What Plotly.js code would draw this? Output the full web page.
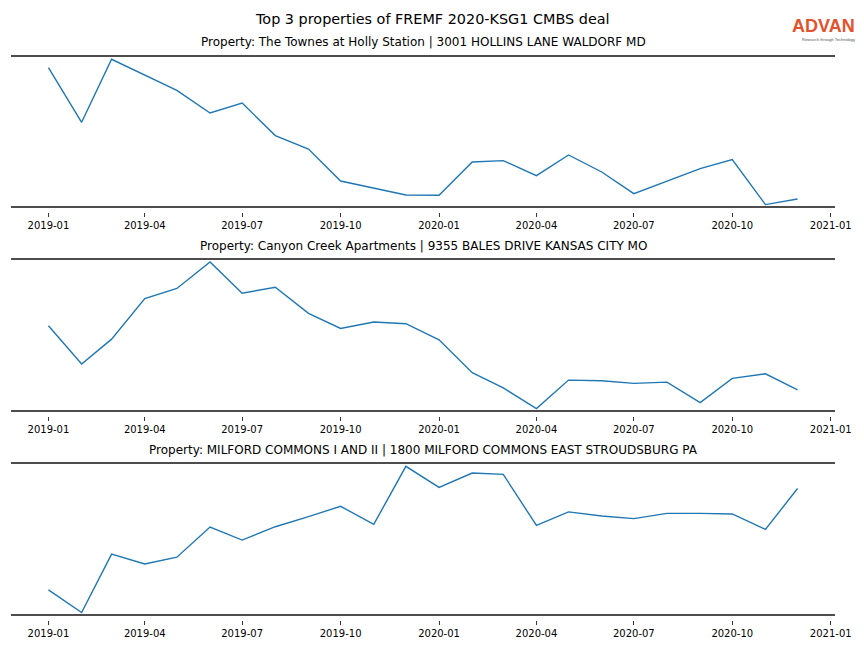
<!DOCTYPE html>
<html>
<head>
<meta charset="utf-8">
<script src="https://cdn.plot.ly/plotly-3.0.1.min.js"></script>
<style>html,body{margin:0;padding:0;background:#fff;}#chart{width:864px;height:648px;}</style>
</head>
<body>
<div id="chart"></div>
<script>
const months = ["2019-01-01","2019-02-01","2019-03-01","2019-04-01","2019-05-01","2019-06-01","2019-07-01","2019-08-01","2019-09-01","2019-10-01","2019-11-01","2019-12-01",
                "2020-01-01","2020-02-01","2020-03-01","2020-04-01","2020-05-01","2020-06-01","2020-07-01","2020-08-01","2020-09-01","2020-10-01","2020-11-01","2020-12-01"];
const townesValues = [139.4,84.7,147.7,132.2,116.7,94,104,71.4,58,26,18.7,12,11.7,45,46.4,31.4,52,35,13.4,25.7,38.4,47.4,2.4,8];
const canyonValues = [84.7,46.7,71.4,111.7,121.7,148,117,123,97,82,88.4,86.7,70.7,38,23,2.4,30.7,30,27.4,28.7,8.4,32.4,37,21];
const milfordValues = [25,2.4,60.4,50.7,57.4,87.4,74.4,87.7,97.7,108,90,147.7,126.7,141,139.7,89,102.4,98.4,95.7,101,101,100.4,85,125.7];
const subtitles = [
  "Property: The Townes at Holly Station | 3001 HOLLINS LANE WALDORF MD",
  "Property: Canyon Creek Apartments | 9355 BALES DRIVE KANSAS CITY MO",
  "Property: MILFORD COMMONS I AND II | 1800 MILFORD COMMONS EAST STROUDSBURG PA"
];
const mainTitle = "Top 3 properties of FREMF 2020-KSG1 CMBS deal";
const tickDates = ["2019-01-01","2019-04-01","2019-07-01","2019-10-01","2020-01-01","2020-04-01","2020-07-01","2020-10-01","2021-01-01"];
const tickLabels = ["2019-01","2019-04","2019-07","2019-10","2020-01","2020-04","2020-07","2020-10","2021-01"];

const W = 864, H = 648;
const font = "DejaVu Sans, sans-serif";
const series = [townesValues, canyonValues, milfordValues];
const tops = [56, 259, 463], bottoms = [207, 411, 615];
const titleY = [42, 246, 450];

const traces = series.map((vals, i) => ({
  x: months, y: vals, type: "scatter", mode: "lines",
  line: {color: "#1f77b4", width: 1.4},
  xaxis: i === 0 ? "x" : "x" + (i + 1),
  yaxis: i === 0 ? "y" : "y" + (i + 1),
  hoverinfo: "skip", showlegend: false
}));

const layout = {
  width: W, height: H,
  margin: {l: 0, r: 0, t: 0, b: 0},
  paper_bgcolor: "#ffffff", plot_bgcolor: "#ffffff",
  font: {family: font, color: "#000"},
  showlegend: false,
  shapes: [],
  annotations: [
    {text: mainTitle, x: 432 / W, y: 1 - 19 / H, xref: "paper", yref: "paper",
     xanchor: "center", yanchor: "middle", showarrow: false, font: {size: 14.4, family: font, color: "#000"}},
    {text: "<b>ADVAN</b>", x: 857 / W, y: 1 - 26 / H, xref: "paper", yref: "paper",
     xanchor: "right", yanchor: "middle", showarrow: false, font: {size: 18, family: "Liberation Sans, Arial, sans-serif", color: "#e4512b"}},
    {text: "Research through Technology", x: 857 / W, y: 1 - 39 / H, xref: "paper", yref: "paper",
     xanchor: "right", yanchor: "middle", showarrow: false, font: {size: 4, family: "Liberation Sans, Arial, sans-serif", color: "#555"}}
  ]
};

for (let i = 0; i < 3; i++) {
  const sx = i === 0 ? "" : String(i + 1);
  const xname = "x" + sx, yname = "y" + sx;
  layout["xaxis" + sx] = {
    type: "date",
    domain: [11 / W, 835 / W],
    range: ["2018-11-27", "2021-01-05"],
    anchor: "free", position: 1 - (bottoms[i] + 5) / H,
    tickmode: "array", tickvals: tickDates, ticktext: tickLabels,
    ticks: "outside", ticklen: 4, tickwidth: 1, tickcolor: "#333",
    tickfont: {size: 10, family: font, color: "#000"},
    showline: false, showgrid: false, zeroline: false, fixedrange: true
  };
  layout["yaxis" + sx] = {
    domain: [1 - bottoms[i] / H, 1 - tops[i] / H],
    range: [0, 151],
    anchor: xname,
    showticklabels: false, ticks: "", showgrid: false, zeroline: false, showline: false, fixedrange: true
  };
  [0, 1].forEach(yv => layout.shapes.push({
    type: "line", xref: xname + " domain", yref: yname + " domain",
    x0: 0, x1: 1, y0: yv, y1: yv, line: {color: "#4d4d4d", width: 1.8}
  }));
  layout.annotations.push({
    text: subtitles[i], x: 423 / W, y: 1 - titleY[i] / H, xref: "paper", yref: "paper",
    xanchor: "center", yanchor: "middle", showarrow: false, font: {size: 12, family: font, color: "#000"}
  });
}

Plotly.newPlot("chart", traces, layout, {staticPlot: true, displayModeBar: false});
</script>
</body>
</html>
